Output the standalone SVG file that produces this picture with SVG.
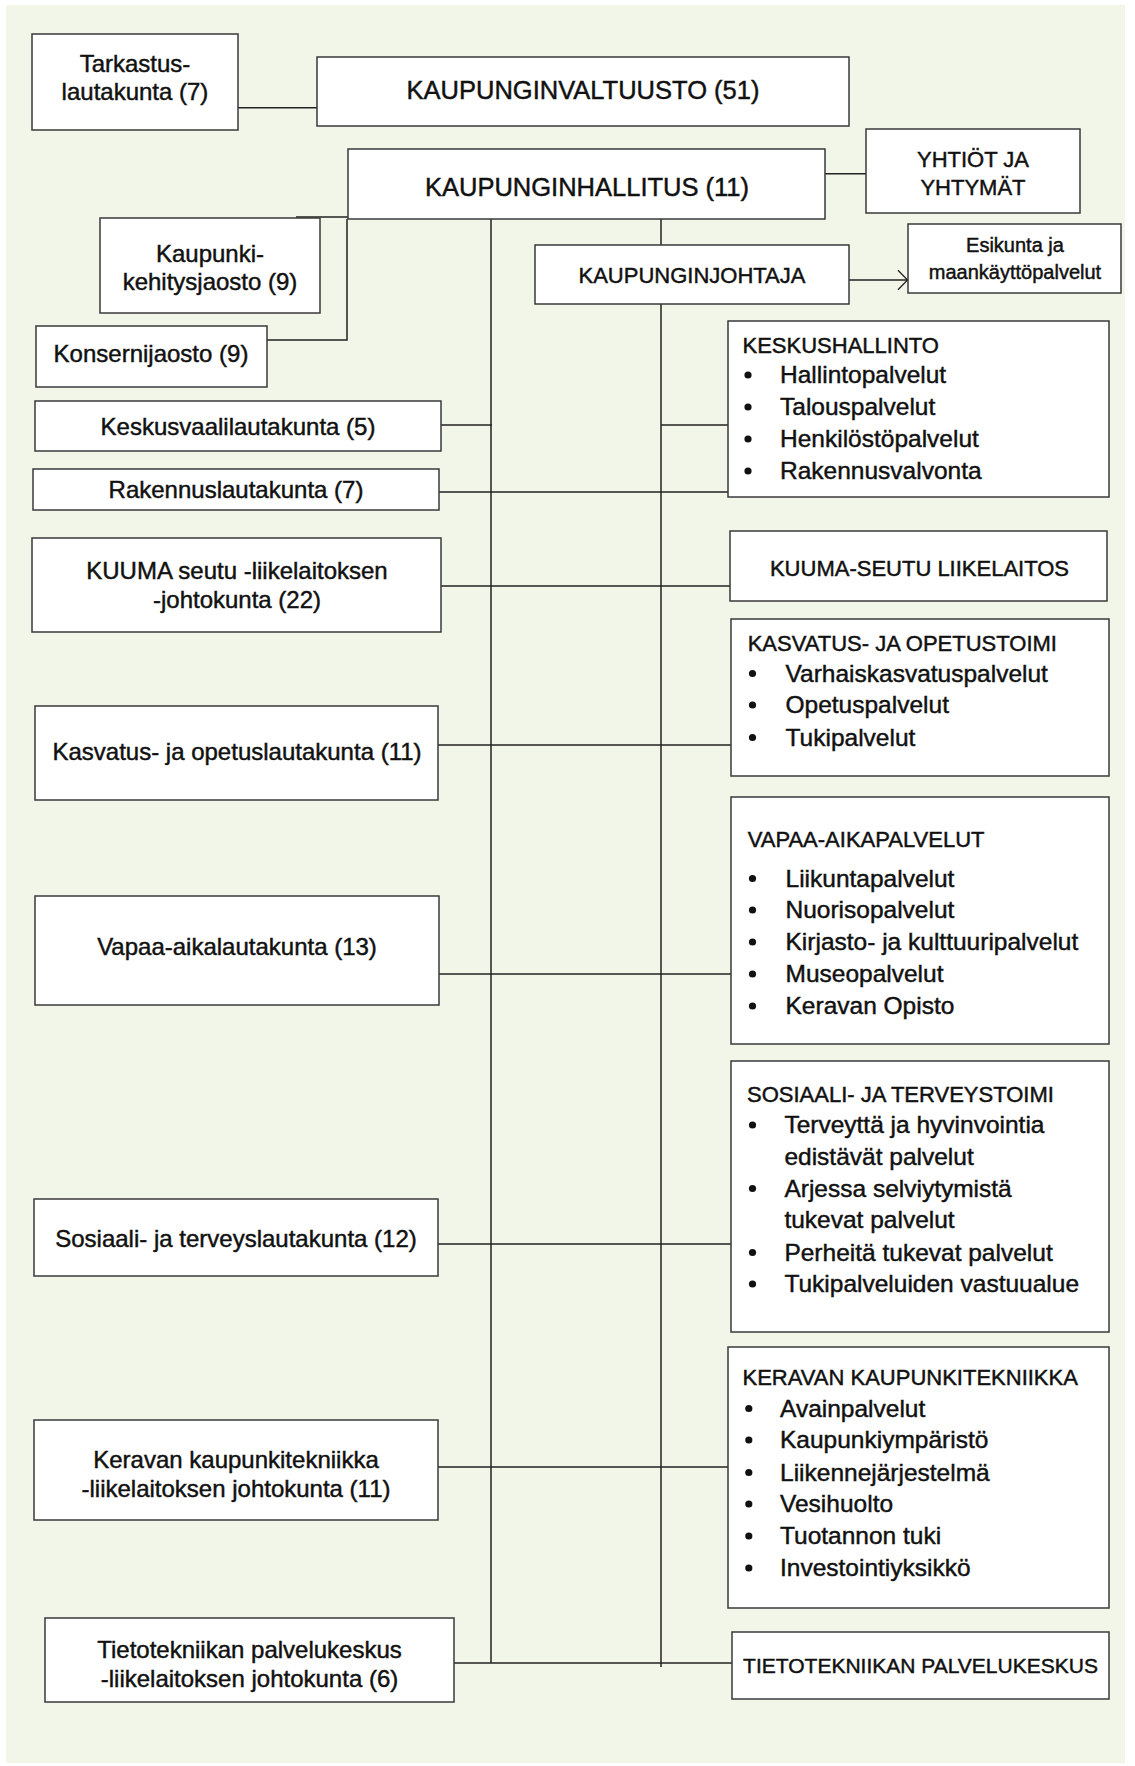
<svg xmlns="http://www.w3.org/2000/svg" width="1135" height="1766" viewBox="0 0 1135 1766">
<defs>
<style>
.box{fill:#fff;stroke:#3a3a3a;stroke-width:1.5}
.ln{fill:none;stroke:#222;stroke-width:1.5}
text{font-family:"Liberation Sans",Arial,sans-serif;fill:#111;stroke:#111;stroke-width:0.45px}
.c{text-anchor:middle}
.big{font-size:25.5px}
.lb{font-size:24px}
.tt{font-size:22px}
.it{font-size:24.5px}
.sm{font-size:20px}
.bl{fill:#111}
</style>
<marker id="arr" markerUnits="userSpaceOnUse" markerWidth="14" markerHeight="24" refX="10.5" refY="11" orient="auto">
<path d="M1,1.3 L10.5,11 L1,20.7" fill="none" stroke="#222" stroke-width="1.3"/>
</marker>
</defs>
<rect x="0" y="0" width="1135" height="1766" fill="#ffffff"/>
<rect x="6" y="5" width="1119" height="1758" fill="#F2F6E8"/>

<g id="connectors">
<path class="ln" d="M238,107.7 H317"/>
<path class="ln" d="M825,173.7 H866"/>
<path class="ln" d="M661,219 V245"/>
<path class="ln" d="M849,280 H907.5" marker-end="url(#arr)"/>
<path class="ln" d="M296,217 H348"/>
<path class="ln" d="M347,219 V340 H267"/>
<path class="ln" d="M491,219 V1663"/>
<path class="ln" d="M661,304 V1667"/>
<path class="ln" d="M441,425 H492"/>
<path class="ln" d="M661,425 H728"/>
<path class="ln" d="M439,492 H728"/>
<path class="ln" d="M441,586 H730"/>
<path class="ln" d="M438,745 H731"/>
<path class="ln" d="M439,974 H731"/>
<path class="ln" d="M438,1244 H731"/>
<path class="ln" d="M438,1467 H728"/>
<path class="ln" d="M454,1663 H732"/>
</g>

<g id="tarkastus">
<rect class="box" x="32" y="34" width="206" height="96"/>
<text class="lb c" x="135" y="72">Tarkastus-</text>
<text class="lb c" x="135" y="100">lautakunta (7)</text>
</g>
<g id="valtuusto">
<rect class="box" x="317" y="57" width="532" height="69"/>
<text class="big c" x="583" y="99">KAUPUNGINVALTUUSTO (51)</text>
</g>
<g id="hallitus">
<rect class="box" x="348" y="149" width="477" height="70"/>
<text class="big c" x="587" y="196">KAUPUNGINHALLITUS (11)</text>
</g>
<g id="yhtiot">
<rect class="box" x="866" y="129" width="214" height="84"/>
<text class="tt c" x="973" y="167">YHTIÖT JA</text>
<text class="tt c" x="973" y="195">YHTYMÄT</text>
</g>
<g id="johtaja">
<rect class="box" x="535" y="245" width="314" height="59"/>
<text class="tt c" x="692" y="283">KAUPUNGINJOHTAJA</text>
</g>
<g id="esikunta">
<rect class="box" x="908" y="224" width="213" height="69"/>
<text class="sm c" x="1015" y="252">Esikunta ja</text>
<text class="sm c" x="1015" y="279">maankäyttöpalvelut</text>
</g>
<g id="kaupunkikehitys">
<rect class="box" x="100" y="218" width="220" height="95"/>
<text class="lb c" x="210" y="262">Kaupunki-</text>
<text class="lb c" x="210" y="290">kehitysjaosto (9)</text>
</g>
<g id="konserni">
<rect class="box" x="36" y="326" width="231" height="61"/>
<text class="lb c" x="151" y="362">Konsernijaosto (9)</text>
</g>
<g id="keskusvaali">
<rect class="box" x="35" y="401" width="406" height="50"/>
<text class="lb c" x="238" y="435">Keskusvaalilautakunta (5)</text>
</g>
<g id="rakennus">
<rect class="box" x="33" y="469" width="406" height="41"/>
<text class="lb c" x="236" y="498">Rakennuslautakunta (7)</text>
</g>
<g id="kuuma-jk">
<rect class="box" x="32" y="538" width="409" height="94"/>
<text class="lb c" x="237" y="579">KUUMA seutu -liikelaitoksen</text>
<text class="lb c" x="237" y="608">-johtokunta (22)</text>
</g>
<g id="kasvatus-lk">
<rect class="box" x="35" y="706" width="403" height="94"/>
<text class="lb c" x="237" y="760">Kasvatus- ja opetuslautakunta (11)</text>
</g>
<g id="vapaa-lk">
<rect class="box" x="35" y="896" width="404" height="109"/>
<text class="lb c" x="237" y="955">Vapaa-aikalautakunta (13)</text>
</g>
<g id="sosiaali-lk">
<rect class="box" x="34" y="1199" width="404" height="77"/>
<text class="lb c" x="236" y="1247">Sosiaali- ja terveyslautakunta (12)</text>
</g>
<g id="keravan-jk">
<rect class="box" x="34" y="1420" width="404" height="100"/>
<text class="lb c" x="236" y="1468">Keravan kaupunkitekniikka</text>
<text class="lb c" x="236" y="1497">-liikelaitoksen johtokunta (11)</text>
</g>
<g id="tieto-jk">
<rect class="box" x="45" y="1618" width="409" height="84"/>
<text class="lb c" x="249.5" y="1658">Tietotekniikan palvelukeskus</text>
<text class="lb c" x="249.5" y="1687">-liikelaitoksen johtokunta (6)</text>
</g>

<g id="keskushallinto">
<rect class="box" x="728" y="321" width="381" height="176"/>
<text class="tt" x="742.5" y="352.7">KESKUSHALLINTO</text>
<circle class="bl" cx="748" cy="375" r="3.6"/>
<circle class="bl" cx="748" cy="407" r="3.6"/>
<circle class="bl" cx="748" cy="439" r="3.6"/>
<circle class="bl" cx="748" cy="471" r="3.6"/>
<text class="it" x="780" y="383.3">Hallintopalvelut</text>
<text class="it" x="780" y="415">Talouspalvelut</text>
<text class="it" x="780" y="447">Henkilöstöpalvelut</text>
<text class="it" x="780" y="479">Rakennusvalvonta</text>
</g>
<g id="kuuma-liikelaitos">
<rect class="box" x="730" y="531" width="377" height="70"/>
<text class="tt c" x="919.5" y="576">KUUMA-SEUTU LIIKELAITOS</text>
</g>
<g id="kasvatus-toimi">
<rect class="box" x="731" y="619" width="378" height="157"/>
<text class="tt" x="747.7" y="650.7">KASVATUS- JA OPETUSTOIMI</text>
<circle class="bl" cx="752.5" cy="673.5" r="3.6"/>
<circle class="bl" cx="752.5" cy="705" r="3.6"/>
<circle class="bl" cx="752.5" cy="737.5" r="3.6"/>
<text class="it" x="785.5" y="681.7">Varhaiskasvatuspalvelut</text>
<text class="it" x="785.5" y="713.3">Opetuspalvelut</text>
<text class="it" x="785.5" y="745.7">Tukipalvelut</text>
</g>
<g id="vapaa-aika">
<rect class="box" x="731" y="797" width="378" height="247"/>
<text class="tt" x="747.7" y="846.7">VAPAA-AIKAPALVELUT</text>
<circle class="bl" cx="752.5" cy="878.5" r="3.6"/>
<circle class="bl" cx="752.5" cy="910" r="3.6"/>
<circle class="bl" cx="752.5" cy="942" r="3.6"/>
<circle class="bl" cx="752.5" cy="974" r="3.6"/>
<circle class="bl" cx="752.5" cy="1006" r="3.6"/>
<text class="it" x="785.5" y="886.7">Liikuntapalvelut</text>
<text class="it" x="785.5" y="918.3">Nuorisopalvelut</text>
<text class="it" x="785.5" y="950">Kirjasto- ja kulttuuripalvelut</text>
<text class="it" x="785.5" y="982.3">Museopalvelut</text>
<text class="it" x="785.5" y="1014">Keravan Opisto</text>
</g>
<g id="sosiaali-toimi">
<rect class="box" x="731" y="1061" width="378" height="271"/>
<text class="tt" x="747" y="1101.7">SOSIAALI- JA TERVEYSTOIMI</text>
<circle class="bl" cx="752.5" cy="1125" r="3.6"/>
<circle class="bl" cx="752.5" cy="1188.5" r="3.6"/>
<circle class="bl" cx="752.5" cy="1252.5" r="3.6"/>
<circle class="bl" cx="752.5" cy="1284" r="3.6"/>
<text class="it" x="784.4" y="1133.3">Terveyttä ja hyvinvointia</text>
<text class="it" x="784.4" y="1165">edistävät palvelut</text>
<text class="it" x="784.4" y="1196.7">Arjessa selviytymistä</text>
<text class="it" x="784.4" y="1228.3">tukevat palvelut</text>
<text class="it" x="784.4" y="1260.7">Perheitä tukevat palvelut</text>
<text class="it" x="784.4" y="1292.3">Tukipalveluiden vastuualue</text>
</g>
<g id="keravan-kaupunkitekniikka">
<rect class="box" x="728" y="1347" width="381" height="261"/>
<text class="tt" x="742.5" y="1385">KERAVAN KAUPUNKITEKNIIKKA</text>
<circle class="bl" cx="748.8" cy="1408.5" r="3.6"/>
<circle class="bl" cx="748.8" cy="1440" r="3.6"/>
<circle class="bl" cx="748.8" cy="1472.5" r="3.6"/>
<circle class="bl" cx="748.8" cy="1504" r="3.6"/>
<circle class="bl" cx="748.8" cy="1536" r="3.6"/>
<circle class="bl" cx="748.8" cy="1568" r="3.6"/>
<text class="it" x="780" y="1416.7">Avainpalvelut</text>
<text class="it" x="780" y="1448.3">Kaupunkiympäristö</text>
<text class="it" x="780" y="1480.7">Liikennejärjestelmä</text>
<text class="it" x="780" y="1512.3">Vesihuolto</text>
<text class="it" x="780" y="1544.3">Tuotannon tuki</text>
<text class="it" x="780" y="1576">Investointiyksikkö</text>
</g>
<g id="tieto-palvelukeskus">
<rect class="box" x="732" y="1632" width="377" height="67"/>
<text class="c" style="font-size:21px" x="920.5" y="1672.7">TIETOTEKNIIKAN PALVELUKESKUS</text>
</g>
</svg>
